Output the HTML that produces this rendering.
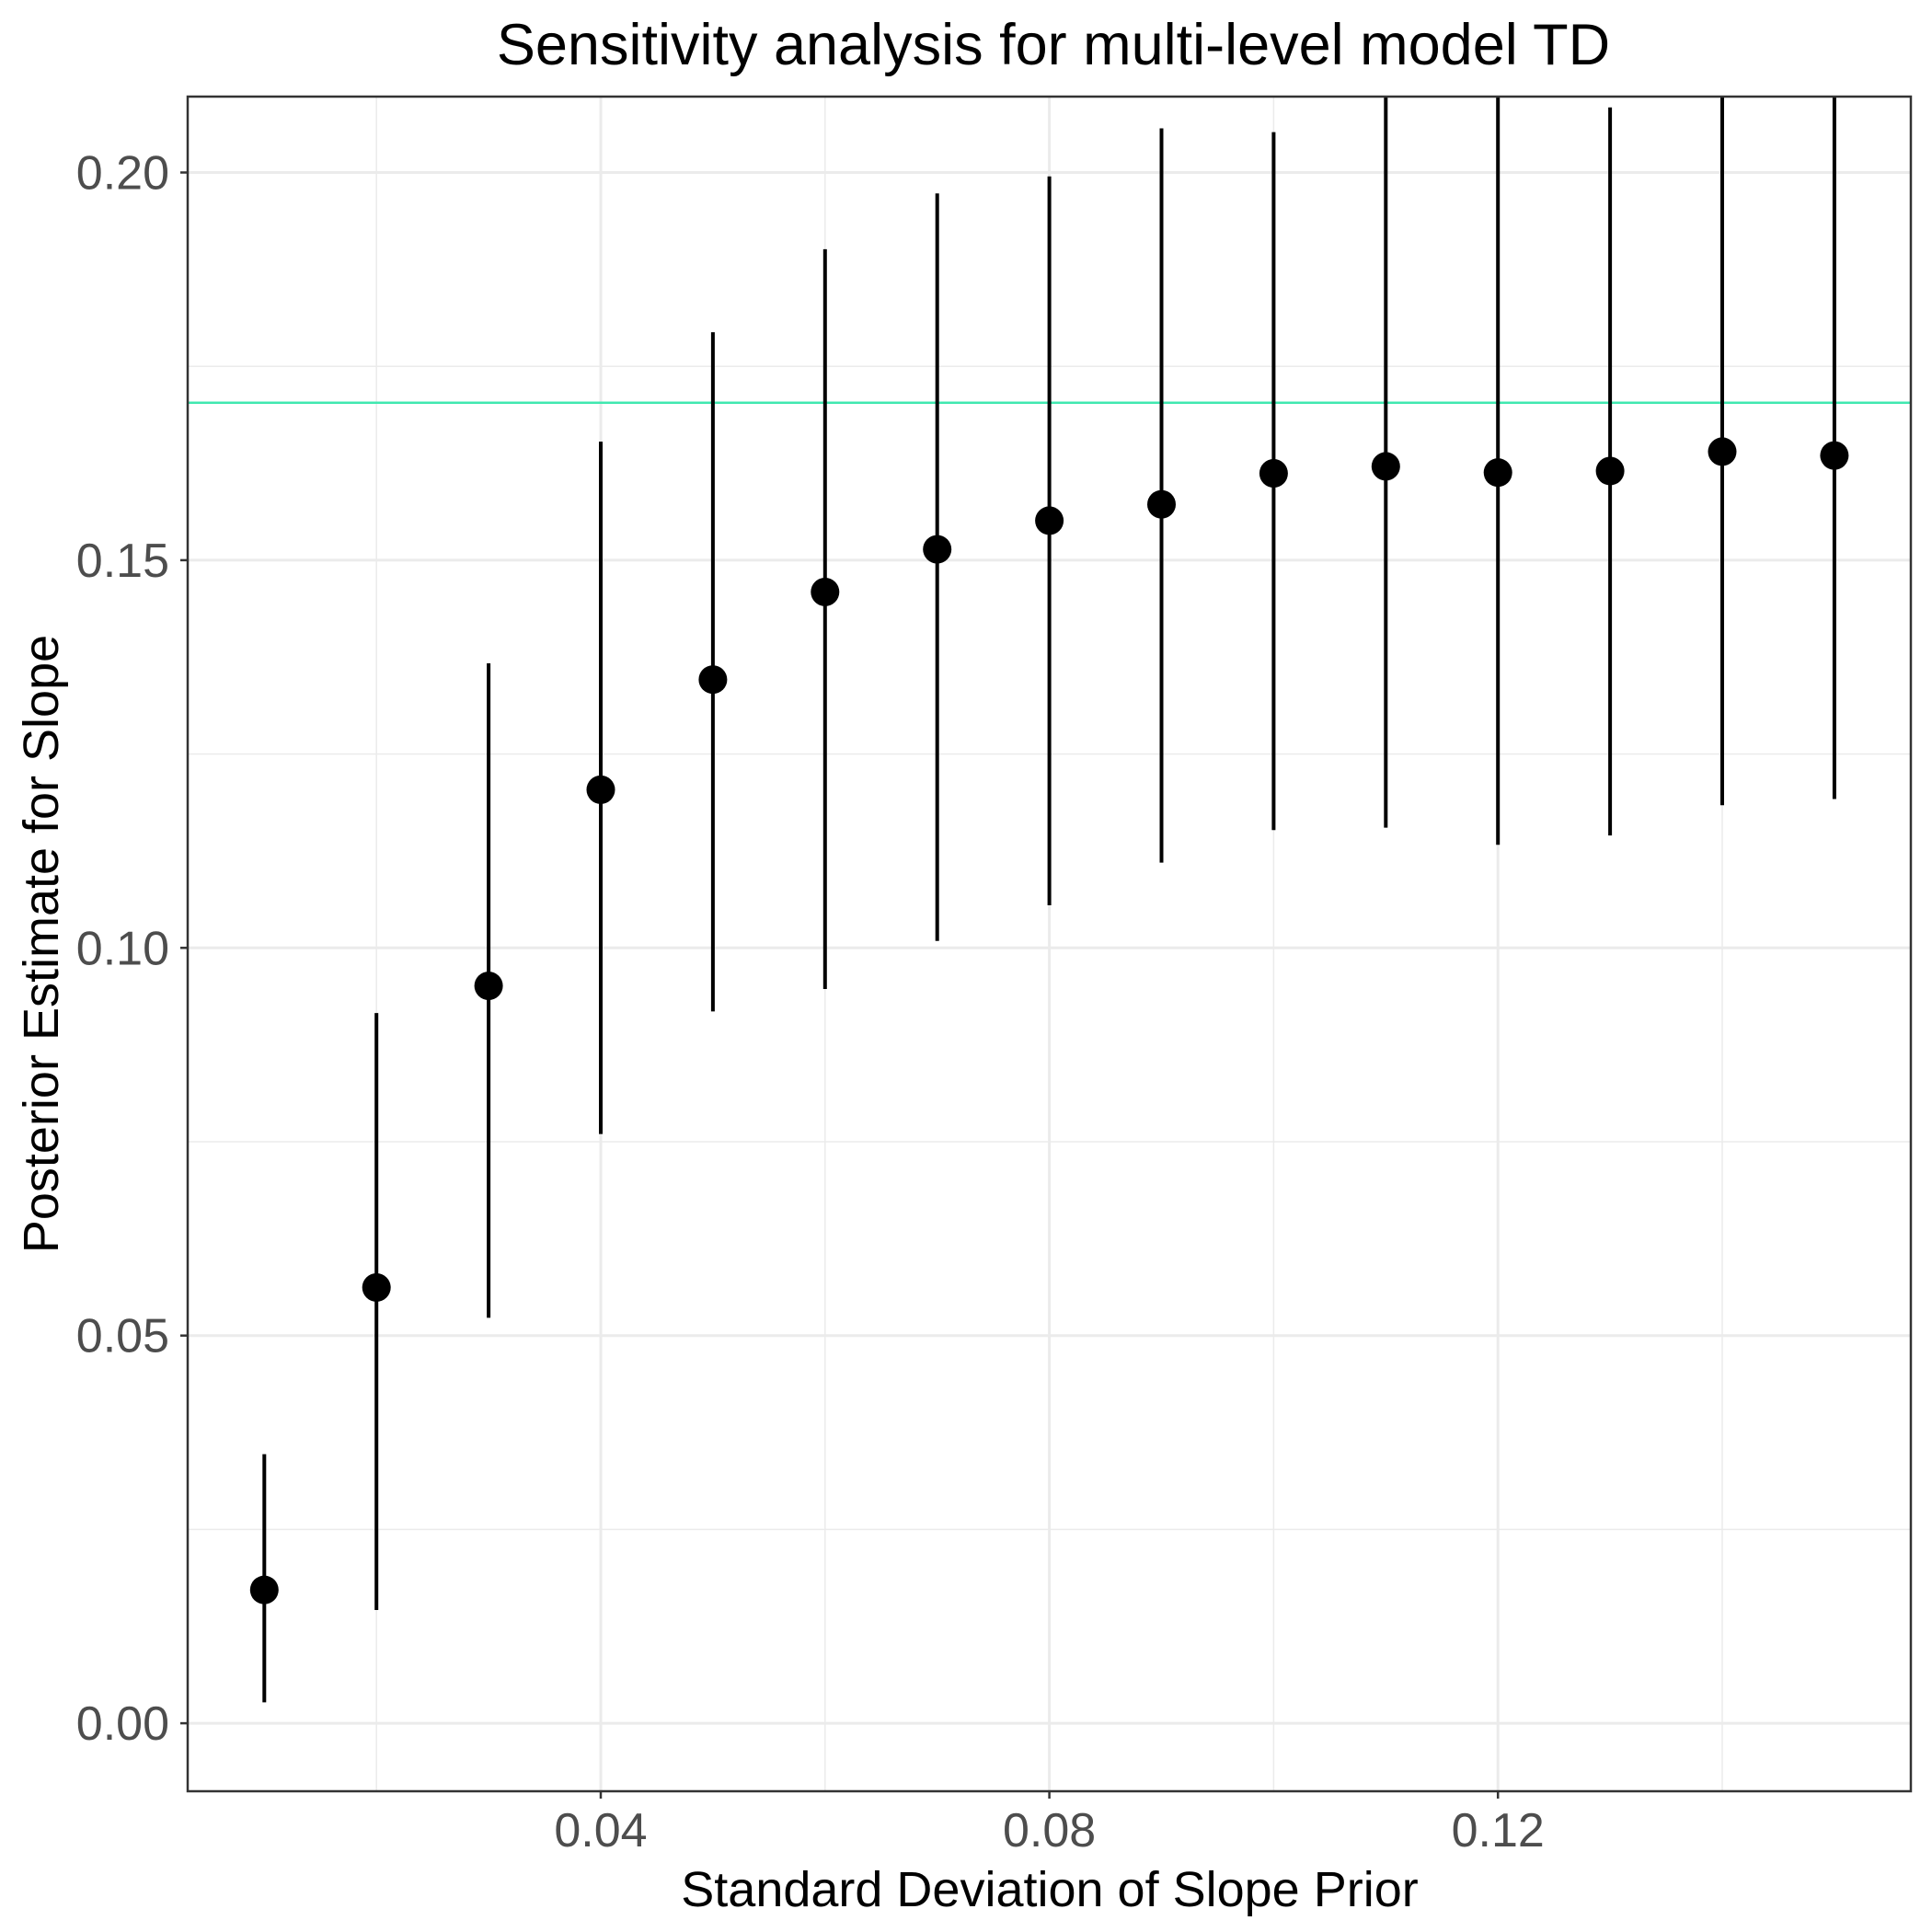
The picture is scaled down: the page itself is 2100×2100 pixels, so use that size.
<!DOCTYPE html>
<html><head><meta charset="utf-8"><style>html,body{margin:0;padding:0;background:#fff}svg{display:block}</style></head>
<body>
<svg id="chart" width="2100" height="2100" xmlns="http://www.w3.org/2000/svg" font-family="Liberation Sans, Arial, sans-serif">
<rect width="2100" height="2100" fill="#fff"/>
<text x="1145" y="70" font-size="63" text-anchor="middle" fill="#000">Sensitivity analysis for multi-level model TD</text>
<defs><clipPath id="pc"><rect x="204" y="105" width="1873" height="1842"/></clipPath></defs>
<g id="grid"></g>
<g id="marks" clip-path="url(#pc)"></g>
<rect x="204" y="105" width="1873" height="1842" fill="none" stroke="#333" stroke-width="2.5"/>
<g id="axes"></g>
<text x="1141" y="2072" font-size="54" text-anchor="middle" fill="#000">Standard Deviation of Slope Prior</text>
<text transform="translate(63,1026) rotate(-90)" font-size="54" text-anchor="middle" fill="#000">Posterior Estimate for Slope</text>
</svg>
<script>
const xs = [0.01,0.02,0.03,0.04,0.05,0.06,0.07,0.08,0.09,0.10,0.11,0.12,0.13,0.14,0.15];
const est = [0.0172,0.0562,0.0951,0.1204,0.1346,0.1459,0.1514,0.1551,0.1572,0.1612,0.1621,0.1613,0.1615,0.1640,0.1635];
const lower = [0.0027,0.0146,0.0523,0.0760,0.0918,0.0947,0.1009,0.1055,0.1110,0.1152,0.1155,0.1133,0.1145,0.1184,0.1192];
const upper = [0.0347,0.0916,0.1367,0.1653,0.1794,0.1901,0.1973,0.1995,0.2057,0.2052,0.2130,0.2140,0.2084,0.2160,0.2150];
const refLine = 0.1703;
const xTicks = [0.04,0.08,0.12];
const xMinor = [0.02,0.06,0.10,0.14];
const yTicks = [0.00,0.05,0.10,0.15,0.20];
const yMinor = [0.025,0.075,0.125,0.175];
const xTickLabels = ["0.04","0.08","0.12"];
const yTickLabels = ["0.00","0.05","0.10","0.15","0.20"];

const NS="http://www.w3.org/2000/svg";
const L=204,R=2077,T=105,B=1947;
function X(v){return 653+(v-0.04)*12190;}
function Y(v){return 1873.1-v*8428;}
function mk(tag,attrs,parent){const e=document.createElementNS(NS,tag);for(const k in attrs)e.setAttribute(k,attrs[k]);parent.appendChild(e);return e;}
const grid=document.getElementById('grid'),marks=document.getElementById('marks'),axes=document.getElementById('axes');
yMinor.forEach(v=>{const e=mk('line',{x1:L,x2:R,y1:Y(v),y2:Y(v),stroke:'#ebebeb','stroke-width':1.5},grid);

});
xMinor.forEach(v=>{const e=mk('line',{x1:X(v),x2:X(v),y1:T,y2:B,stroke:'#ebebeb','stroke-width':1.5},grid);

});
yTicks.forEach((v,i)=>{const e=mk('line',{x1:L,x2:R,y1:Y(v),y2:Y(v),stroke:'#ebebeb','stroke-width':3},grid);


const t=mk('line',{x1:L-8,x2:L,y1:Y(v),y2:Y(v),stroke:'#333','stroke-width':2.5},axes);


const lb=mk('text',{x:L-20,y:Y(v)+18,'font-size':52,'text-anchor':'end',fill:'#4d4d4d'},axes);lb.textContent=yTickLabels[i];

});
xTicks.forEach((v,i)=>{const e=mk('line',{x1:X(v),x2:X(v),y1:T,y2:B,stroke:'#ebebeb','stroke-width':3},grid);


const t=mk('line',{x1:X(v),x2:X(v),y1:B,y2:B+8,stroke:'#333','stroke-width':2.5},axes);


const lb=mk('text',{x:X(v),y:B+60,'font-size':52,'text-anchor':'middle',fill:'#4d4d4d'},axes);lb.textContent=xTickLabels[i];

});
const rl=mk('line',{x1:L,x2:R,y1:Y(refLine),y2:Y(refLine),stroke:'#40e8b0','stroke-width':2.5},marks);


xs.forEach((v,i)=>{const e=mk('line',{x1:X(v),x2:X(v),y1:Y(lower[i]),y2:Y(upper[i]),stroke:'#000','stroke-width':4},marks);


const c=mk('circle',{cx:X(v),cy:Y(est[i]),r:15.5,fill:'#000'},marks);

});
</script>
</body></html>
